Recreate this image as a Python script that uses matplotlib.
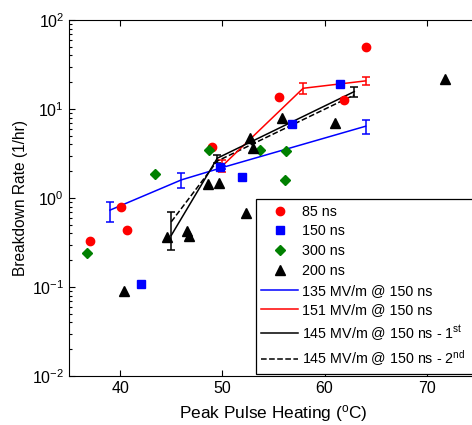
import matplotlib
matplotlib.use("Agg")
import matplotlib.pyplot as plt
import numpy as np
from matplotlib.lines import Line2D

plt.rcParams["font.family"] = ["Liberation Sans", "DejaVu Sans"]
plt.rcParams["mathtext.fontset"] = "custom"
plt.rcParams["mathtext.rm"] = "Liberation Sans"
plt.rcParams["mathtext.it"] = "Liberation Sans:italic"
plt.rcParams["mathtext.bf"] = "Liberation Sans:bold"

# scattered measurements
x_85 = [37.1, 40.1, 40.7, 49.0, 55.5, 61.9, 64.0]
y_85 = [0.33, 0.79, 0.44, 3.77, 13.7, 12.5, 50.0]
x_150 = [42.0, 49.8, 51.9, 56.8, 61.5]
y_150 = [0.107, 2.25, 1.74, 6.7, 19.1]
x_300 = [36.8, 43.4, 48.7, 53.7, 56.1, 56.2]
y_300 = [0.24, 1.87, 3.43, 3.49, 1.58, 3.37]
x_200 = [40.4, 44.6, 46.5, 46.7, 48.6, 49.7, 52.3, 52.7, 53.0, 55.8, 61.0, 71.8]
y_200 = [0.09, 0.36, 0.43, 0.37, 1.45, 1.47, 0.67, 4.7, 3.67, 8.0, 6.9, 21.6]

# runs with error bars
x_135 = [39.0, 46.0, 50.0, 64.0]
y_135 = [0.73, 1.6, 2.2, 6.4]
lo_135 = [0.54, 1.29, 2.1, 5.3]
hi_135 = [0.90, 1.90, 2.3, 7.5]

x_151 = [50.0, 57.9, 64.0]
y_151 = [2.3, 17.1, 20.7]
lo_151 = [1.97, 14.6, 18.6]
hi_151 = [2.67, 19.5, 23.0]

x_145a = [45.0, 49.5, 62.9]
y_145a = [0.38, 2.8, 15.7]
lo_145a = [0.26, 2.47, 13.5]
hi_145a = [0.70, 3.04, 17.8]

x_145b = [45.0, 49.5, 62.9]
y_145b = [0.54, 2.6, 14.4]


def yerr(y, lo, hi):
    y = np.asarray(y)
    return [y - np.asarray(lo), np.asarray(hi) - y]


fig = plt.figure(figsize=(4.72, 4.25), dpi=100)
# right edge runs past the figure, as in the cropped original
ax = fig.add_axes([0.1462, 0.1153, 0.8665, 0.8376])

lw = 1.1
ax.errorbar(x_135, y_135, yerr=yerr(y_135, lo_135, hi_135), color="blue",
            lw=lw, capsize=3, elinewidth=lw, capthick=lw, zorder=2)
ax.errorbar(x_151, y_151, yerr=yerr(y_151, lo_151, hi_151), color="red",
            lw=lw, capsize=3, elinewidth=lw, capthick=lw, zorder=2)
ax.errorbar(x_145a, y_145a, yerr=yerr(y_145a, lo_145a, hi_145a), color="black",
            lw=lw, capsize=3, elinewidth=lw, capthick=lw, zorder=2)
ax.plot(x_145b, y_145b, color="black", lw=lw, ls="--", zorder=2)

ax.plot(x_85, y_85, "o", color="red", ms=6, zorder=3)
ax.plot(x_150, y_150, "s", color="blue", ms=5.5, zorder=3)
ax.plot(x_300, y_300, "D", color="#008000", ms=5, zorder=3)
ax.plot(x_200, y_200, "^", color="black", ms=6.5, zorder=3)

ax.set_yscale("log")
ax.set_xlim(35, 75)
ax.set_ylim(1e-2, 1e2)
ax.set_xticks([40, 50, 60, 70])
ax.tick_params(which="both", direction="in", top=True, right=True,
               labelsize=11.5, width=0.8)
ax.tick_params(which="major", length=4)
ax.tick_params(which="minor", length=2.5)
ax.tick_params(axis="x", which="minor", top=False, bottom=False)
ax.set_xlabel(r"Peak Pulse Heating ($\mathregular{^o}$C)", fontsize=12.4, labelpad=5)
ax.set_ylabel("Breakdown Rate (1/hr)", fontsize=11.2, labelpad=3)

handles = [
    Line2D([], [], ls="none", marker="o", color="red", ms=6),
    Line2D([], [], ls="none", marker="s", color="blue", ms=5.5),
    Line2D([], [], ls="none", marker="D", color="#008000", ms=5),
    Line2D([], [], ls="none", marker="^", color="black", ms=6.5),
    Line2D([], [], color="blue", lw=lw),
    Line2D([], [], color="red", lw=lw),
    Line2D([], [], color="black", lw=lw),
    Line2D([], [], color="black", lw=lw, ls="--"),
]
labels = ["85 ns", "150 ns", "300 ns", "200 ns",
          "135 MV/m @ 150 ns", "151 MV/m @ 150 ns",
          r"145 MV/m @ 150 ns - 1$\mathregular{^{st}}$",
          r"145 MV/m @ 150 ns - 2$\mathregular{^{nd}}$"]
leg = ax.legend(handles, labels, loc="upper left",
                bbox_to_anchor=(0.4565, 0.0, 0.56, 0.497), mode="expand",
                borderaxespad=0, fontsize=10.25, fancybox=False, framealpha=1,
                edgecolor="black", handlelength=2.55, handletextpad=0.3,
                borderpad=0.4, labelspacing=0.4)
leg.get_frame().set_linewidth(0.9)

fig.savefig("out.png", dpi=100)
